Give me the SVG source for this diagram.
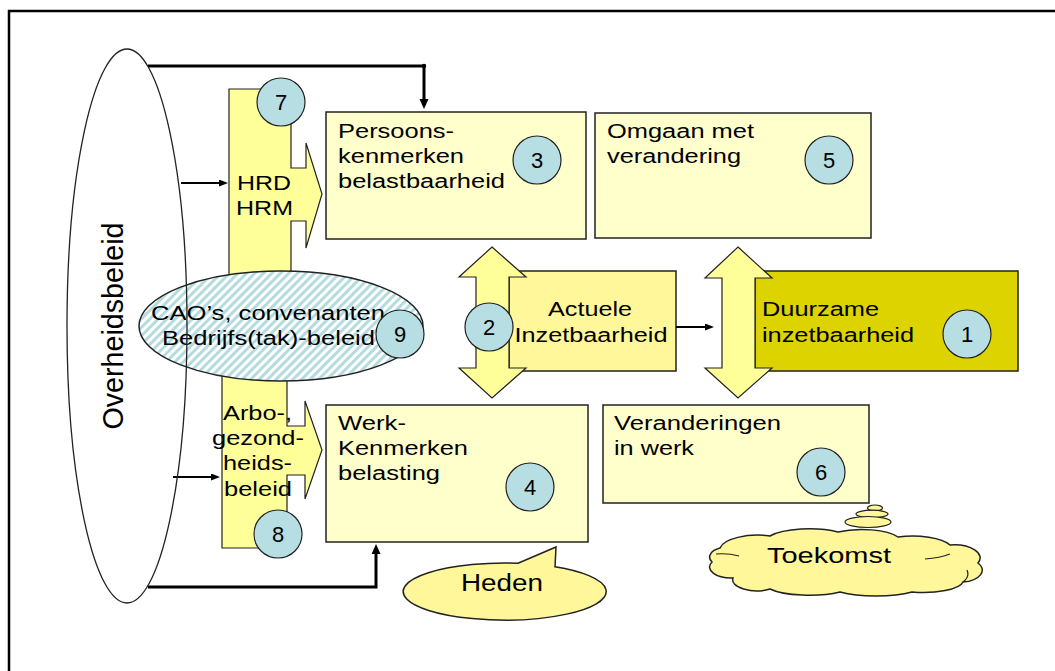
<svg xmlns="http://www.w3.org/2000/svg" width="1055" height="671" viewBox="0 0 1055 671">
<style>
.t{font-family:"Liberation Sans",Arial,sans-serif;font-size:20px;fill:#000}
.box{fill:#FFFFCC;stroke:#222;stroke-width:1.5}
.yel{fill:#FFFF99;stroke:#222;stroke-width:1.2}
.badge{fill:#B7DEE2;stroke:#222;stroke-width:1.2}
.num{font-family:"Liberation Sans",Arial,sans-serif;font-size:22px;fill:#000;text-anchor:middle}
.thick{fill:none;stroke:#000;stroke-width:3}
.thin{fill:none;stroke:#000;stroke-width:2}
</style>
<defs>
<marker id="ah" markerUnits="userSpaceOnUse" markerWidth="12" markerHeight="10" refX="6" refY="4.5" orient="auto">
<path d="M0,0 L10,4.5 L0,9 Z" fill="#000"/>
</marker>
<marker id="ahs" markerUnits="userSpaceOnUse" markerWidth="10" markerHeight="8" refX="5" refY="3.5" orient="auto">
<path d="M0,0 L9,3.5 L0,7 Z" fill="#000"/>
</marker>
<pattern id="hatch" patternUnits="userSpaceOnUse" width="6" height="6" patternTransform="rotate(45)">
<rect width="6" height="6" fill="#fff"/>
<rect width="3" height="6" fill="#B4DCE0"/>
</pattern>
</defs>

<rect x="0" y="0" width="1055" height="671" fill="#fff"/>
<path d="M9,700 V11 H1100" fill="none" stroke="#000" stroke-width="2.5"/>

<g id="node-persoonskenmerken">
<rect class="box" x="326" y="112" width="260" height="127"/>
<text class="t" x="338" y="138" textLength="116" lengthAdjust="spacingAndGlyphs">Persoons-</text>
<text class="t" x="338" y="163" textLength="126" lengthAdjust="spacingAndGlyphs">kenmerken</text>
<text class="t" x="338" y="188" textLength="167" lengthAdjust="spacingAndGlyphs">belastbaarheid</text>
</g>

<g id="node-omgaan">
<rect class="box" x="595" y="113" width="276" height="125"/>
<text class="t" x="607" y="138" textLength="147" lengthAdjust="spacingAndGlyphs">Omgaan met</text>
<text class="t" x="607" y="163" textLength="134" lengthAdjust="spacingAndGlyphs">verandering</text>
</g>

<g id="node-werkkenmerken">
<rect class="box" x="326" y="405" width="262" height="137"/>
<text class="t" x="338" y="430" textLength="68" lengthAdjust="spacingAndGlyphs">Werk-</text>
<text class="t" x="338" y="455" textLength="130" lengthAdjust="spacingAndGlyphs">Kenmerken</text>
<text class="t" x="338" y="480" textLength="102" lengthAdjust="spacingAndGlyphs">belasting</text>
</g>

<g id="node-veranderingen">
<rect class="box" x="603" y="405" width="266" height="98"/>
<text class="t" x="614" y="430" textLength="167" lengthAdjust="spacingAndGlyphs">Veranderingen</text>
<text class="t" x="614" y="455" textLength="80" lengthAdjust="spacingAndGlyphs">in werk</text>
</g>

<g id="node-actuele">
<rect x="509" y="271" width="167" height="100" fill="#FFF799" stroke="#222" stroke-width="1.5"/>
<text class="t" x="590" y="316" text-anchor="middle" textLength="84" lengthAdjust="spacingAndGlyphs">Actuele</text>
<text class="t" x="591" y="342" text-anchor="middle" textLength="153" lengthAdjust="spacingAndGlyphs">Inzetbaarheid</text>
</g>

<g id="node-duurzame">
<rect x="755" y="271" width="263" height="100" fill="#DCD300" stroke="#222" stroke-width="1.5"/>
<text class="t" x="762" y="316" textLength="117" lengthAdjust="spacingAndGlyphs">Duurzame</text>
<text class="t" x="762" y="342" textLength="152" lengthAdjust="spacingAndGlyphs">inzetbaarheid</text>
</g>

<g id="connectors">
<polygon class="yel" points="492,247 526,277 509,277 509,368 526,368 492,398 459,368 476,368 476,277 459,277"/>
<polygon class="yel" points="738,247 772,278 755,278 755,368 772,368 738,398 705,368 722,368 722,278 705,278"/>
<path class="thick" d="M148,66 H424 V105" marker-end="url(#ah)"/>
<circle cx="424" cy="66" r="2.2" fill="#000"/>
<path class="thick" d="M148,587 H376 V548" marker-end="url(#ah)"/>
<path class="thin" d="M181,183 H224" marker-end="url(#ahs)"/>
<path class="thin" d="M173,477 H216" marker-end="url(#ahs)"/>
<path class="thin" d="M676,327 H710" marker-end="url(#ahs)"/>
</g>

<g id="node-hrd">
<polygon class="yel" points="229,89 291,89 291,168 306,168 306,143 322,194 306,248 306,221 291,221 291,285 229,285"/>
<text class="t" x="237" y="190" textLength="54" lengthAdjust="spacingAndGlyphs">HRD</text>
<text class="t" x="236" y="215" textLength="57" lengthAdjust="spacingAndGlyphs">HRM</text>
</g>

<g id="node-arbo">
<polygon class="yel" points="222,365 287,365 287,426 305,426 305,401 322,450 305,499 305,475 287,475 287,548 222,548"/>
<text class="t" x="223" y="420" textLength="69" lengthAdjust="spacingAndGlyphs">Arbo-,</text>
<text class="t" x="212" y="445" textLength="92" lengthAdjust="spacingAndGlyphs">gezond-</text>
<text class="t" x="223" y="470" textLength="69" lengthAdjust="spacingAndGlyphs">heids-</text>
<text class="t" x="224" y="496" textLength="68" lengthAdjust="spacingAndGlyphs">beleid</text>
</g>

<g id="node-cao">
<ellipse cx="281" cy="326" rx="142" ry="55" fill="url(#hatch)" stroke="#222" stroke-width="1.5"/>
<text class="t" x="151" y="320" textLength="234" lengthAdjust="spacingAndGlyphs">CAO’s, convenanten</text>
<text class="t" x="162" y="345" textLength="213" lengthAdjust="spacingAndGlyphs">Bedrijfs(tak)-beleid</text>
</g>

<g id="node-overheidsbeleid">
<ellipse cx="127" cy="326" rx="60" ry="277" fill="none" stroke="#222" stroke-width="1.3"/>
<text class="t" style="font-size:29px" x="0" y="0" transform="translate(123,326) rotate(-90)" text-anchor="middle" textLength="207" lengthAdjust="spacingAndGlyphs">Overheidsbeleid</text>
</g>

<g id="node-heden">
<path d="M518,563.3 L556,547 L555,566.8 A101.5,28.5 0 1 1 518,563.3 Z" fill="#FFF799" stroke="#222" stroke-width="1.5"/>
<text class="t" style="font-size:23px" x="502" y="591" text-anchor="middle" textLength="82" lengthAdjust="spacingAndGlyphs">Heden</text>
</g>

<g id="node-toekomst">
<ellipse cx="875" cy="508" rx="7.5" ry="3" fill="#FFF799" stroke="#222" stroke-width="1.2"/>
<ellipse cx="872" cy="514" rx="16" ry="3.8" fill="#FFF799" stroke="#222" stroke-width="1.2"/>
<ellipse cx="868" cy="522" rx="23" ry="5.5" fill="#FFF799" stroke="#222" stroke-width="1.2"/>
<path d="M720,548 A38,15 0 0 1 770,536 A45,14 0 0 1 838,532 A40,13 0 0 1 898,537 A40,14 0 0 1 950,545 A26,13 0 0 1 978,563 A22,12 0 0 1 963,582 A40,12 0 0 1 912,592 A48,12 0 0 1 840,592 A45,12 0 0 1 770,589 A24,11 0 0 1 733,578 A22,11 0 0 1 712,562 A18,10 0 0 1 720,548 Z" fill="#FFF799" stroke="#222" stroke-width="1.5"/>
<path d="M716,554 Q728,553 739,556 M925,559 Q940,558 950,554 M963,582 Q970,577 967,570" fill="none" stroke="#222" stroke-width="1.2"/>
<text class="t" style="font-size:22px" x="767" y="563" textLength="124" lengthAdjust="spacingAndGlyphs">Toekomst</text>
</g>

<g id="badge-1"><circle class="badge" cx="967" cy="334" r="24"/><text class="num" x="967" y="342">1</text></g>
<g id="badge-2"><circle class="badge" cx="489" cy="327" r="24"/><text class="num" x="489" y="335">2</text></g>
<g id="badge-3"><circle class="badge" cx="537" cy="160" r="24"/><text class="num" x="537" y="168">3</text></g>
<g id="badge-4"><circle class="badge" cx="530" cy="487" r="24"/><text class="num" x="530" y="495">4</text></g>
<g id="badge-5"><circle class="badge" cx="829" cy="160" r="24"/><text class="num" x="829" y="168">5</text></g>
<g id="badge-6"><circle class="badge" cx="821" cy="472" r="24"/><text class="num" x="821" y="480">6</text></g>
<g id="badge-7"><circle class="badge" cx="281" cy="102" r="24"/><text class="num" x="281" y="110">7</text></g>
<g id="badge-8"><circle class="badge" cx="278" cy="534" r="24"/><text class="num" x="278" y="542">8</text></g>
<g id="badge-9"><circle class="badge" cx="400" cy="334" r="24"/><text class="num" x="400" y="342">9</text></g>
</svg>
